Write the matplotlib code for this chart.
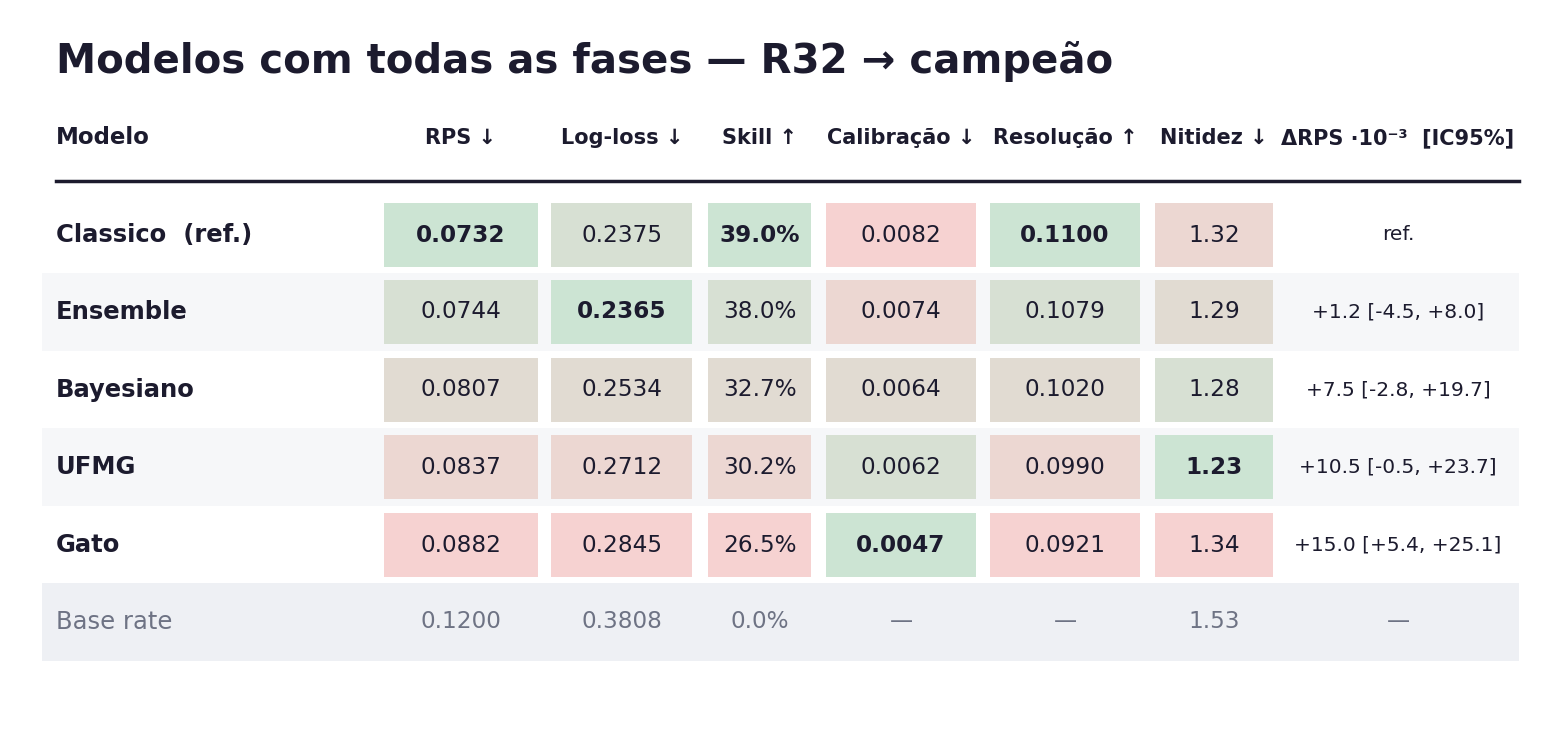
import matplotlib
matplotlib.use('Agg')
import matplotlib.pyplot as plt
import numpy as np
from matplotlib.colors import to_rgb

models = ['Classico  (ref.)', 'Ensemble', 'Bayesiano', 'UFMG', 'Gato']
headers = ['RPS ↓', 'Log-loss ↓', 'Skill ↑', 'Calibração ↓', 'Resolução ↑', 'Nitidez ↓']
rps = [0.0732, 0.0744, 0.0807, 0.0837, 0.0882]
logloss = [0.2375, 0.2365, 0.2534, 0.2712, 0.2845]
skill = [39.0, 38.0, 32.7, 30.2, 26.5]
calib = [0.0082, 0.0074, 0.0064, 0.0062, 0.0047]
resol = [0.1100, 0.1079, 0.1020, 0.0990, 0.0921]
nitidez = [1.32, 1.29, 1.28, 1.23, 1.34]
delta = ['ref.', '+1.2 [-4.5, +8.0]', '+7.5 [-2.8, +19.7]', '+10.5 [-0.5, +23.7]', '+15.0 [+5.4, +25.1]']
base = ['0.1200', '0.3808', '0.0%', '—', '—', '1.53', '—']

cols = [rps, logloss, skill, calib, resol, nitidez]
lower_better = [True, True, False, True, False, True]
fmts = ['{:.4f}', '{:.4f}', '{:.1f}%', '{:.4f}', '{:.4f}', '{:.2f}']

# layout in pixels
xc = [461, 622, 760, 901, 1065, 1214]
cw = [154, 141, 103, 150, 150, 118]
xdelta = 1398
row_y = [235, 312, 390, 467, 545]
base_y = 622
rh = 64
dark = '#1c1b2e'
grey = '#6e7384'
green = np.array(to_rgb('#cce4d3'))
red = np.array(to_rgb('#f6d2d1'))

fig = plt.figure(figsize=(15.68, 7.32), dpi=100)
ax = fig.add_axes([0, 0, 1, 1])
ax.set_xlim(0, 1568)
ax.set_ylim(732, 0)
ax.axis('off')

ax.text(56, 62, 'Modelos com todas as fases — R32 → campeão', fontsize=29,
        fontweight='bold', color=dark, va='center')

ax.text(56, 138, 'Modelo', fontsize=16.5, fontweight='bold', color=dark, va='center')
for h, x in zip(headers, xc):
    ax.text(x, 138, h, fontsize=15, fontweight='bold', color=dark, va='center', ha='center')
ax.text(xdelta, 138, 'ΔRPS ·10⁻³  [IC95%]', fontsize=15, fontweight='bold', color=dark,
        va='center', ha='center')
ax.plot([56, 1519], [181, 181], color=dark, lw=2.5)

# row stripes
for i, y in enumerate(row_y):
    if i % 2 == 1:
        ax.add_patch(plt.Rectangle((42, y - 39), 1477, 78, color='#f6f7f9', lw=0))
ax.add_patch(plt.Rectangle((42, base_y - 39), 1477, 78, color='#eef0f4', lw=0))

for j, vals in enumerate(cols):
    order = np.argsort(vals) if lower_better[j] else np.argsort(vals)[::-1]
    ranks = np.empty(len(vals), int)
    ranks[order] = np.arange(len(vals))
    for i, v in enumerate(vals):
        t = ranks[i] / (len(vals) - 1)
        c = green * (1 - t) + red * t
        y = row_y[i]
        ax.add_patch(plt.Rectangle((xc[j] - cw[j] / 2, y - rh / 2), cw[j], rh, color=c, lw=0))
        ax.text(xc[j], y, fmts[j].format(v), fontsize=16.7, color=dark, ha='center', va='center',
                fontweight='bold' if ranks[i] == 0 else 'normal')

for i, y in enumerate(row_y):
    ax.text(56, y, models[i], fontsize=17.5, fontweight='bold', color=dark, va='center')
    ax.text(xdelta, y, delta[i], fontsize=14.5, color=dark, ha='center', va='center')

ax.text(56, base_y, 'Base rate', fontsize=17.5, color=grey, va='center')
for x, s in zip(xc + [xdelta], base):
    ax.text(x, base_y, s, fontsize=16.7, color=grey, ha='center', va='center')

fig.savefig('out.png', dpi=100, facecolor='white')
